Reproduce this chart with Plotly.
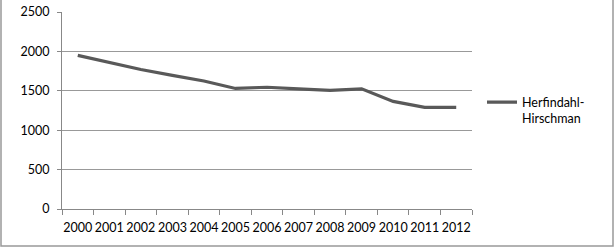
import plotly.graph_objects as go

years = ["2000", "2001", "2002", "2003", "2004", "2005", "2006",
         "2007", "2008", "2009", "2010", "2011", "2012"]
hhi = [1950, 1860, 1770, 1695, 1625, 1530, 1545, 1525, 1505, 1525, 1365, 1290, 1290]
y_ticks = [0, 500, 1000, 1500, 2000, 2500]

L, R, T, B = 62, 144, 12, 40
W, H = 616, 249
pw, ph = W - L - R, H - T - B

def px(x):
    return (x - L) / pw

def py(y):
    return (H - B - y) / ph

fig = go.Figure()
fig.add_trace(go.Scatter(
    x=years, y=hhi, mode="lines", name="Herfindahl-<br>Hirschman",
    line=dict(color="#595959", width=3.2),
))

font = dict(family="Lato, Open Sans, sans-serif", size=12.5, color="#000000")

fig.update_layout(
    width=W, height=H,
    margin=dict(l=L, r=R, t=T, b=B, autoexpand=False),
    paper_bgcolor="white", plot_bgcolor="white",
    font=font,
    showlegend=True,
    legend=dict(x=px(482), xanchor="left", y=0.5, yanchor="middle",
                valign="top", font=font, bgcolor="rgba(0,0,0,0)",
                itemwidth=30, tracegroupgap=0),
    xaxis=dict(
        type="category", tickson="boundaries", ticks="outside", ticklen=5,
        range=[-0.5, len(years) - 0.5],
        tickcolor="#888888", showline=True, linecolor="#888888", linewidth=1,
        showgrid=False, tickfont=font, ticklabelstandoff=7, tickangle=0,
        automargin=False,
    ),
    yaxis=dict(
        range=[0, 2500], tickvals=y_ticks, ticks="outside", ticklen=4,
        tickcolor="#888888", showline=True, linecolor="#888888", linewidth=1,
        showgrid=True, gridcolor="#999999", gridwidth=1, zeroline=False,
        tickfont=font, ticklabelstandoff=5, automargin=False,
    ),
    shapes=[dict(type="rect", xref="paper", yref="paper",
                 x0=px(1), x1=px(613), y0=py(246), y1=py(-5),
                 line=dict(color="#999999", width=1.5), layer="below")],
)

fig.write_html("out.html", config={"displayModeBar": False},
               post_script="document.body.style.margin='0';")
